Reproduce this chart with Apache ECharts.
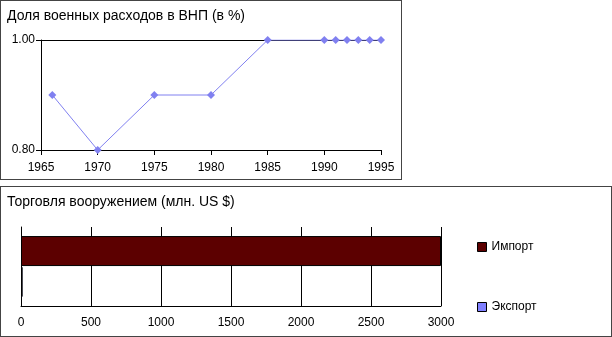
<!DOCTYPE html>
<html>
<head>
<meta charset="utf-8">
<script src="https://cdn.jsdelivr.net/npm/echarts@6/dist/echarts.min.js"></script>
<style>
  body { margin: 0; background: #fff; }
  .panel { position: absolute; box-sizing: border-box; border: 1px solid #444; background: #fff; }
  #top_box { left: 0; top: 0; width: 402px; height: 180px; }
  #bottom_box { left: 0; top: 186px; width: 612px; height: 151px; }
</style>
</head>
<body>
<div id="top_box" class="panel"></div>
<div id="bottom_box" class="panel"></div>
<script>
// доля военных расходов в ВНП
var years = [1966, 1970, 1975, 1980, 1985, 1990, 1991, 1992, 1993, 1994, 1995];
var shares = [0.9, 0.8, 0.9, 0.9, 1.0, 1.0, 1.0, 1.0, 1.0, 1.0, 1.0];

// торговля вооружением
var tradeNames = ["Импорт", "Экспорт"];
var tradeValues = [3000, 12];
var tradeColors = ["#5c0000", "#8080ff"];

var font = "Liberation Sans, Arial, sans-serif";

var topChart = echarts.init(document.getElementById("top_box"));
topChart.setOption({
  animation: false,
  title: {
    text: "Доля военных расходов в ВНП (в %)",
    left: 6,
    top: 8,
    padding: 0,
    textStyle: { fontFamily: font, fontSize: 14, fontWeight: "normal", color: "#000" }
  },
  grid: { left: 40, top: 39, width: 340, height: 110 },
  xAxis: {
    type: "value",
    min: 1965,
    max: 1995,
    interval: 5,
    axisLine: { lineStyle: { color: "#000" } },
    axisTick: { length: 5, lineStyle: { color: "#000" } },
    axisLabel: {
      margin: 12, color: "#000", fontFamily: font, fontSize: 12,
      formatter: function (v) { return String(v); }
    },
    splitLine: { show: false }
  },
  yAxis: {
    type: "value",
    min: 0.8,
    max: 1.0,
    interval: 0.2,
    axisLine: { show: true, lineStyle: { color: "#000" } },
    axisTick: { show: true, length: 5, lineStyle: { color: "#000" } },
    axisLabel: {
      margin: 6, color: "#000", fontFamily: font, fontSize: 12,
      formatter: function (v) { return v.toFixed(2); }
    },
    splitLine: { lineStyle: { color: "#000" } }
  },
  series: [{
    type: "line",
    data: years.map(function (y, i) { return [y, shares[i]]; }),
    symbol: "diamond",
    symbolSize: 8,
    lineStyle: { color: "#8080f0", width: 1 },
    itemStyle: { color: "#8080f0" }
  }]
});

var bottomChart = echarts.init(document.getElementById("bottom_box"));
bottomChart.setOption({
  animation: false,
  title: {
    text: "Торговля вооружением (млн. US $)",
    left: 6,
    top: 8,
    padding: 0,
    textStyle: { fontFamily: font, fontSize: 14, fontWeight: "normal", color: "#000" }
  },
  legend: {
    orient: "vertical",
    left: 476,
    top: 54,
    padding: 0,
    itemWidth: 9,
    itemHeight: 9,
    itemGap: 48,
    icon: "rect",
    textStyle: { fontFamily: font, fontSize: 12, color: "#000" },
    data: tradeNames.map(function (name, i) {
      return { name: name, itemStyle: { color: tradeColors[i], borderColor: "#000", borderWidth: 1 } };
    })
  },
  grid: { left: 20, top: 40, width: 420, height: 79 },
  xAxis: {
    type: "value",
    min: 0,
    max: 3000,
    interval: 500,
    axisLine: { show: true, lineStyle: { color: "#000" } },
    axisTick: { show: false },
    axisLabel: {
      margin: 11, color: "#000", fontFamily: font, fontSize: 12,
      formatter: function (v) { return String(v); }
    },
    splitLine: { lineStyle: { color: "#000" } }
  },
  yAxis: {
    type: "category",
    inverse: true,
    data: [""],
    axisLine: { lineStyle: { color: "#000" } },
    axisTick: { show: false },
    axisLabel: { show: false }
  },
  series: tradeNames.map(function (name, i) {
    return {
      name: name,
      type: "bar",
      data: [tradeValues[i]],
      barWidth: 30,
      barGap: "3%",
      itemStyle: { color: tradeColors[i], borderColor: "#000", borderWidth: 1 }
    };
  })
});
</script>
</body>
</html>
